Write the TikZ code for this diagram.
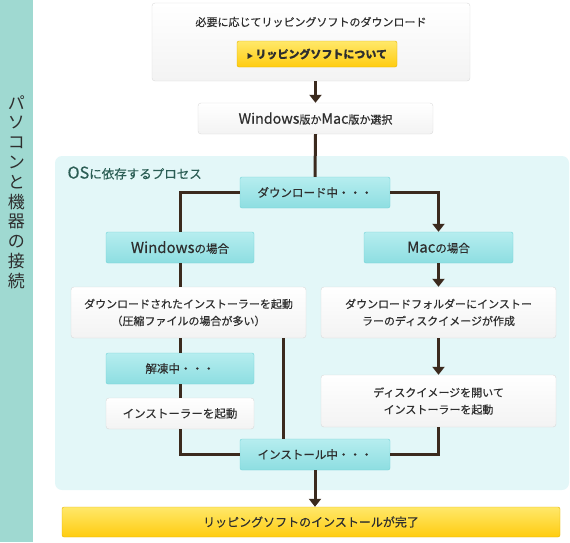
\documentclass[tikz,border=0pt]{standalone}
\usepackage{fontspec}
\usepackage{xcolor}
\usepackage{tikz}
\usetikzlibrary{arrows.meta,positioning,calc}
\setmainfont{Noto Sans CJK JP}[FakeBold=0.35]
\newfontfamily\latwide{Noto Sans CJK JP}[Scale=1.3,FakeBold=0.35]
\newfontfamily\sidefont{Noto Sans CJK JP}
\newcommand\lat[1]{{\latwide #1}}
\definecolor{side}{HTML}{9FD9D1}
\definecolor{zone}{HTML}{E3F7F8}
\definecolor{ink}{HTML}{2E2E2E}
\definecolor{wire}{HTML}{3B2A1E}
\definecolor{tealtop}{HTML}{B6EDEF}
\definecolor{tealbot}{HTML}{8DDEE1}
\definecolor{tealrim}{HTML}{72D3D7}
\definecolor{whitebot}{HTML}{F3F3F3}
\definecolor{whiterim}{HTML}{DADADA}
\definecolor{goldtop}{HTML}{FFE86A}
\definecolor{goldbot}{HTML}{FFCC10}
\definecolor{goldrim}{HTML}{E4B300}
\definecolor{zonetext}{HTML}{2B5E55}

\begin{document}
\begin{tikzpicture}[x=1pt,y=-1pt,
  stage/.style={rectangle,draw=tealrim,top color=tealtop,bottom color=tealbot,
                rounded corners=2pt,minimum height=31pt,minimum width=148pt,inner sep=0pt,
                text=ink,font=\fontsize{11.5}{14}\selectfont},
  task/.style={rectangle,draw=whiterim,top color=white,bottom color=whitebot,
               rounded corners=3pt,minimum width=235pt,inner sep=0pt,align=center,
               text=ink,font=\fontsize{11}{17}\selectfont},
  gold/.style={rectangle,draw=goldrim,top color=goldtop,bottom color=goldbot,
               rounded corners=2pt,inner sep=0pt,text=ink},
  link/.style={wire,line width=3pt},
  arr/.style={link,-{Triangle[width=12pt,length=8pt]}}]
\useasboundingbox (0,0) rectangle (570,542);
% sidebar and OS zone
\fill[side] (0,0) rectangle (33,542);
\node[text=ink,align=center,font=\sidefont\fontsize{17}{19.8}\selectfont] (sidetitle) at (16.5,192)
  {パ\\ソ\\コ\\ン\\と\\機\\器\\の\\接\\続};
\fill[zone,rounded corners=7pt] (55,156) rectangle (569,490);
\node[anchor=west,text=zonetext,font=\fontsize{12.5}{15}\selectfont] (zonetitle) at (64,173) {\lat{OS}に依存するプロセス};

% boxes
\node[task,minimum width=318pt,minimum height=78pt] (fetch) at (311,42) {};
\node[text=ink,font=\fontsize{11}{14}\selectfont] (fetchtext) at (311,22) {必要に応じてリッピングソフトのダウンロード};
\node[gold,minimum width=160pt,minimum height=26pt,font=\fontsize{11}{14}\selectfont\bfseries] (about) at (317,54)
  {{\fontsize{6}{8}\selectfont ▶}\ リッピングソフトについて};
\node[task,minimum height=31pt] (pick) at (315.5,118.5) {\lat{Windows}版か\lat{Mac}版か選択};
\node[stage,minimum width=150pt] (dl) at (315,192.5) {ダウンロード中・・・};
\node[stage] (wincase) at (180,247.5) {\lat{Windows}の場合};
\node[stage,minimum width=149pt] (maccase) at (438.5,247.5) {\lat{Mac}の場合};
\node[task,minimum height=51pt] (windl) at (188.5,312.5) {ダウンロードされたインストーラーを起動\\（圧縮ファイルの場合が多い）};
\node[task,minimum height=51pt] (macdl) at (438.5,312.5) {ダウンロードフォルダーにインストー\\ラーのディスクイメージが作成};
\node[stage] (unzip) at (180,368.5) {解凍中・・・};
\node[task,minimum width=148pt,minimum height=31pt,font=\fontsize{11.5}{14}\selectfont] (winrun) at (180,413.5) {インストーラーを起動};
\node[task,minimum height=52pt] (macrun) at (438.5,401) {ディスクイメージを開いて\\インストーラーを起動};
\node[stage,minimum width=150pt] (inst) at (315,454.5) {インストール中・・・};
\node[gold,minimum width=498pt,minimum height=30pt,font=\fontsize{12}{14}\selectfont] (done) at (311,522) {リッピングソフトのインストールが完了};

% connectors
\draw[arr] (fetch.south -| pick.north) -- (pick.north);
\draw[link] (pick.south) -- (dl.north);
\draw[link] (dl.west) -| (wincase.north);
\draw[arr] (dl.east) -| (maccase.north);
\draw[link] (wincase.south) -- (wincase.south |- windl.north);
\draw[arr] (maccase.south) -- (macdl.north);
\draw[link] (unzip.north |- windl.south) -- (unzip.north);
\draw[link] (unzip.south) -- (winrun.north);
\draw[link] (winrun.south) |- (inst.west);
\draw[link] ([xshift=-32pt]inst.north |- windl.south) -- ([xshift=-32pt]inst.north);
\draw[arr] (macdl.south) -- (macrun.north);
\draw[link] (macrun.south) |- (inst.east);
\draw[arr] (inst.south) -- (done.north -| inst.south);
\end{tikzpicture}
\end{document}
